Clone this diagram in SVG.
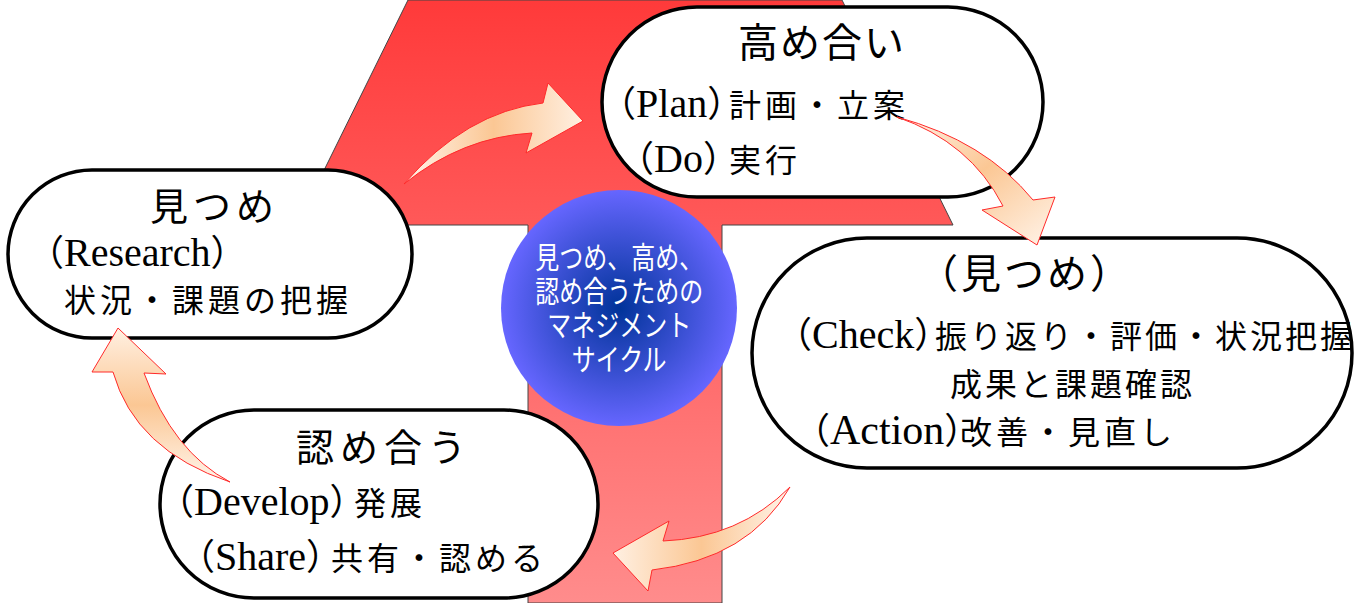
<svg xmlns="http://www.w3.org/2000/svg" width="1358" height="603" viewBox="0 0 1358 603">
<style>
.node{fill:#fff;stroke:#000;stroke-width:3.5}
.ttl{font-family:"Noto Sans CJK JP","Noto Sans CJK SC",sans-serif;font-size:38px;fill:#000}
.ln{font-family:"Noto Sans CJK JP","Noto Sans CJK SC",sans-serif;fill:#000}
.jp{font-family:"Noto Sans CJK JP","Noto Sans CJK SC",sans-serif;font-size:32px;letter-spacing:4px}
.pr{font-family:"Noto Sans CJK JP","Noto Sans CJK SC",sans-serif;font-size:36px;font-feature-settings:"halt" 1}
.lt{font-family:"Liberation Serif","Times New Roman",serif;font-size:40px}
.ct{font-family:"Noto Sans CJK JP","Noto Sans CJK SC",sans-serif;font-size:30px;fill:#fff}
.ca{stroke:#ff2a2a;stroke-width:1;stroke-linejoin:miter}
</style>
<defs>
<linearGradient id="bigArrow" x1="0" y1="0" x2="0" y2="603" gradientUnits="userSpaceOnUse">
<stop offset="0" stop-color="#ff3a3a"/>
<stop offset="1" stop-color="#ff8c8c"/>
</linearGradient>
<radialGradient id="ball" cx="0.5" cy="0.5" r="0.5">
<stop offset="0" stop-color="#003399"/>
<stop offset="1" stop-color="#6666ff"/>
</radialGradient>
<linearGradient id="peachH" x1="0" y1="0" x2="1" y2="0">
<stop offset="0" stop-color="#fff4ea"/>
<stop offset="0.5" stop-color="#fbc794"/>
<stop offset="1" stop-color="#fff0e2"/>
</linearGradient>
<linearGradient id="peachHR" x1="1" y1="0" x2="0" y2="0">
<stop offset="0" stop-color="#fff4ea"/>
<stop offset="0.5" stop-color="#fbc794"/>
<stop offset="1" stop-color="#fff0e2"/>
</linearGradient>
<linearGradient id="peachD" x1="0" y1="0" x2="0.9" y2="1">
<stop offset="0" stop-color="#fff4ea"/>
<stop offset="0.5" stop-color="#fbc794"/>
<stop offset="1" stop-color="#fff0e2"/>
</linearGradient>
<linearGradient id="peachV" x1="0" y1="1" x2="0" y2="0">
<stop offset="0" stop-color="#fff4ea"/>
<stop offset="0.5" stop-color="#fbc794"/>
<stop offset="1" stop-color="#fff0e2"/>
</linearGradient>
</defs>

<g id="big-arrow">
<polygon points="408,0 842,0 953,225 722,225 722,603 528,603 528,225 297,225" fill="url(#bigArrow)" stroke="#444" stroke-width="1"/>
</g>

<g id="center">
<circle cx="619" cy="308" r="118" fill="url(#ball)"/>
<text class="ct" transform="scale(0.8,1)" text-anchor="middle"><tspan x="774" y="268">見つめ、高め、</tspan><tspan x="774" y="302">認め合うための</tspan><tspan x="774" y="336">マネジメント</tspan><tspan x="774" y="370">サイクル</tspan></text>
</g>

<g id="node-top">
<rect class="node" x="602" y="7" width="441" height="190" rx="95" ry="95"/>
<text class="ttl" x="738" y="57" style="font-size:40px;letter-spacing:2px">高め合い</text>
<text class="ln" x="618" y="117"><tspan class="pr">（</tspan><tspan class="lt">Plan</tspan><tspan class="pr">）</tspan><tspan class="jp" x="729">計画・立案</tspan></text>
<text class="ln" x="636" y="172"><tspan class="pr">（</tspan><tspan class="lt">Do</tspan><tspan class="pr">）</tspan><tspan class="jp" x="729">実行</tspan></text>
</g>

<g id="node-left">
<rect class="node" x="8" y="170" width="404" height="168" rx="84" ry="84"/>
<text class="ttl" x="150" y="220" style="letter-spacing:5px">見つめ</text>
<text class="ln" x="46" y="266"><tspan class="pr">（</tspan><tspan class="lt">Research</tspan><tspan class="pr">）</tspan></text>
<text class="ln jp" x="64" y="312">状況・課題の把握</text>
</g>

<g id="node-right">
<rect class="node" x="752" y="238" width="600" height="230" rx="115" ry="115"/>
<text class="ttl" x="918" y="288" style="font-size:40px;letter-spacing:3px">（見つめ）</text>
<text class="ln" x="794" y="348"><tspan class="pr">（</tspan><tspan class="lt">Check</tspan><tspan class="pr">）</tspan><tspan class="jp" x="935" style="letter-spacing:3px">振り返り・評価・状況把握</tspan></text>
<text class="ln jp" x="950" y="396" style="letter-spacing:3px">成果と課題確認</text>
<text class="ln" x="812" y="444"><tspan class="pr">（</tspan><tspan class="lt" style="font-size:42px">Action</tspan><tspan class="pr">）</tspan><tspan class="jp" x="960">改善・見直し</tspan></text>
</g>

<g id="node-bottom">
<rect class="node" x="160" y="410" width="438" height="188" rx="94" ry="94"/>
<text class="ttl" x="296" y="461" style="letter-spacing:6px">認め合う</text>
<text class="ln" x="176" y="515"><tspan class="pr">（</tspan><tspan class="lt">Develop</tspan><tspan class="pr">）</tspan><tspan class="jp" x="354">発展</tspan></text>
<text class="ln" x="197" y="570"><tspan class="pr">（</tspan><tspan class="lt">Share</tspan><tspan class="pr">）</tspan><tspan class="jp" x="331">共有・認める</tspan></text>
</g>

<g id="connectors">
<path class="ca" fill="url(#peachH)" d="M404,184 Q466,112 543,103 L548,83 L583,121 L526,153 L532,133 Q462,137 404,184 Z"/>
<path class="ca" fill="url(#peachD)" d="M897,117 Q985,141 1033,200 L1055,197 L1037,245 L982,210 L1003,206 Q970,142 897,117 Z"/>
<path class="ca" fill="url(#peachHR)" d="M790,487 Q739,538 663,541 L669,521 L613,553 L648,591 L652,570 Q749,559 790,487 Z"/>
<path class="ca" fill="url(#peachV)" d="M230,482 Q135,450 113,372 L92,372 L118,328 L166,374 L144,373 Q173,452 230,482 Z"/>
</g>
</svg>
